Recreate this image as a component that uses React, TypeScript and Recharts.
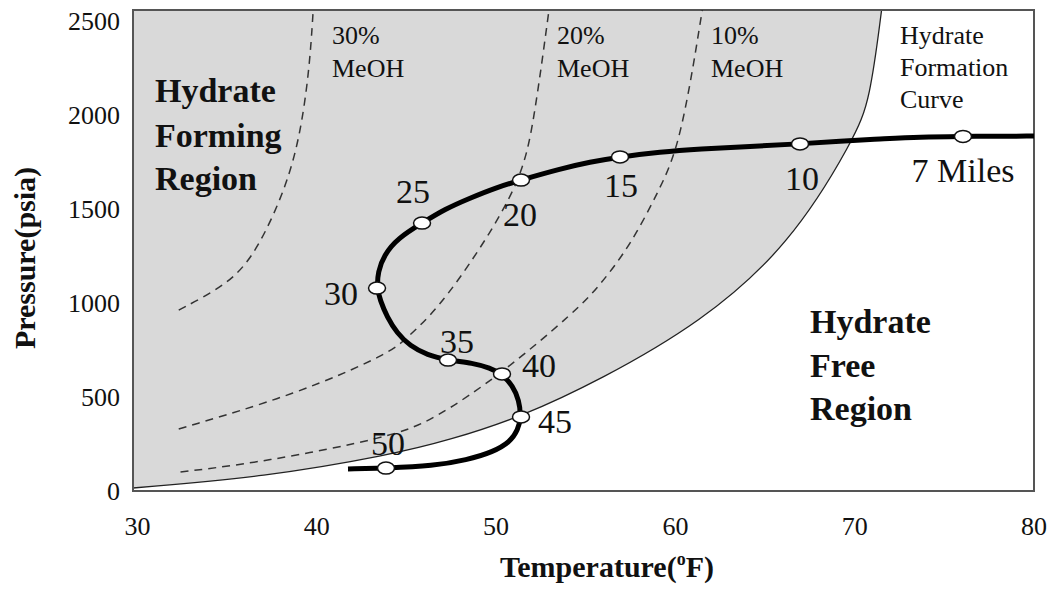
import { ComposedChart, Area, Line, Scatter, XAxis, YAxis, ReferenceArea } from "recharts";

const xTicks = [30, 40, 50, 60, 70, 80];
const yTicks = [0, 500, 1000, 1500, 2000, 2500];

// hydrate formation curve (no methanol)
const formationTemp = [29.75, 37.1, 44.1, 47.4, 51.4, 55.8, 61.4, 66.4, 70.0, 70.85, 71.5];
const formationPressure = [16, 75, 192, 271, 394, 591, 894, 1309, 1879, 2081, 2560];

// inhibited curves
const meoh30Temp = [32.3, 35.2, 36.7, 38.3, 39.1, 39.6, 39.8];
const meoh30Pressure = [963, 1107, 1283, 1618, 1905, 2256, 2560];
const meoh20Temp = [32.3, 38.9, 44.1, 45.0, 46.7, 49.1, 51.4, 52.1, 52.95];
const meoh20Pressure = [330, 516, 734, 814, 963, 1283, 1655, 1958, 2560];
const meoh10Temp = [32.4, 37, 44.1, 46.5, 50.3, 54.5, 55.8, 57.5, 59.1, 60.3, 61.5];
const meoh10Pressure = [101, 154, 287, 378, 623, 963, 1096, 1309, 1602, 1852, 2560];

// pipeline profile, wellhead end first
const routeTemp = [
  80, 77.55, 76.04, 73.64, 71.41, 69.18, 66.95, 64.16, 61.37, 59.14, 56.91, 55.24, 53.56, 51.39, 49.94,
  48.55, 47.15, 45.87, 44.53, 43.75, 43.41, 43.36, 43.53, 43.92, 44.47, 45.2, 46.15, 47.32, 48.71, 49.66,
  50.33, 50.94, 51.28, 51.39, 51.22, 50.78, 49.83, 48.38, 46.48, 43.86, 41.74,
];
const routePressure = [
  1889, 1888, 1887, 1884, 1873, 1863, 1847, 1834, 1820, 1804, 1778, 1751, 1714, 1655, 1613,
  1559, 1501, 1426, 1346, 1256, 1166, 1080, 1016, 926, 841, 772, 724, 697, 681, 655,
  623, 559, 484, 394, 325, 261, 208, 165, 133, 122, 117,
];

const miles = [7, 10, 15, 20, 25, 30, 35, 40, 45, 50];
const mileTemp = [76.04, 66.95, 56.91, 51.39, 45.87, 43.36, 47.32, 50.33, 51.39, 43.86];
const milePressure = [1887, 1847, 1778, 1655, 1426, 1080, 697, 623, 394, 122];

const toPoints = (temps: number[], pressures: number[]) => temps.map((t, i) => ({ t, p: pressures[i] }));

const formationData = toPoints(formationTemp, formationPressure);
const meoh30Data = toPoints(meoh30Temp, meoh30Pressure);
const meoh20Data = toPoints(meoh20Temp, meoh20Pressure);
const meoh10Data = toPoints(meoh10Temp, meoh10Pressure);
const routeData = toPoints(routeTemp, routePressure);
const mileData = miles.map((m, i) => ({ t: mileTemp[i], p: milePressure[i], mile: m }));

const FONT = "'Liberation Serif', 'Times New Roman', serif";

// where each mile number sits relative to its marker
const labelOffset: Record<number, [number, number]> = {
  7: [0, 46],
  10: [2, 46],
  15: [1, 40],
  20: [-1, 46],
  25: [-9, -20],
  30: [-36, 17],
  35: [9, -7],
  40: [37, 3],
  45: [34, 16],
  50: [2, -13],
};

const MileMarker = (props: any) => {
  const { cx, cy, payload } = props;
  const [dx, dy] = labelOffset[payload.mile] || [0, 0];
  return (
    <g>
      <ellipse cx={cx} cy={cy} rx={8.5} ry={6} fill="#fff" stroke="#111" strokeWidth={1.5} />
      <text x={cx + dx} y={cy + dy} textAnchor="middle" fontFamily={FONT} fontSize={34} fill="#111">
        {payload.mile === 7 ? "7 Miles" : payload.mile}
      </text>
    </g>
  );
};

const XTick = (props: any) => (
  <text x={props.x} y={props.y + 44} textAnchor="middle" fontFamily={FONT} fontSize={26} fill="#111">
    {props.payload.value}
  </text>
);

const YTick = (props: any) => (
  <text x={props.x} y={props.y + 9} textAnchor="end" fontFamily={FONT} fontSize={26} fill="#111">
    {props.payload.value}
  </text>
);

export default function App() {
  return (
    <div style={{ position: "absolute", left: 0, top: 0, width: 1051, height: 589, background: "#fff" }}>
      <ComposedChart width={1051} height={589} margin={{ top: 10, right: 17, bottom: 0, left: 0 }}>
        <XAxis
          dataKey="t"
          type="number"
          domain={[29.75, 80]}
          ticks={xTicks}
          allowDataOverflow
          axisLine={false}
          tickLine={false}
          tickSize={0}
          tickMargin={0}
          height={98}
          tick={<XTick />}
        />
        <YAxis
          dataKey="p"
          type="number"
          domain={[0, 2560]}
          ticks={yTicks}
          allowDataOverflow
          axisLine={false}
          tickLine={false}
          tickSize={0}
          tickMargin={13}
          width={133}
          tick={<YTick />}
        />
        <Area
          data={formationData}
          dataKey="p"
          type="basis"
          baseValue={2560}
          fill="#d9d9d9"
          fillOpacity={1}
          stroke="#222"
          strokeWidth={1.3}
          isAnimationActive={false}
        />
        <Line data={meoh30Data} dataKey="p" type="basis" stroke="#333" strokeWidth={1.5} strokeDasharray="8 6" dot={false} isAnimationActive={false} />
        <Line data={meoh20Data} dataKey="p" type="basis" stroke="#333" strokeWidth={1.5} strokeDasharray="8 6" dot={false} isAnimationActive={false} />
        <Line data={meoh10Data} dataKey="p" type="basis" stroke="#333" strokeWidth={1.5} strokeDasharray="8 6" dot={false} isAnimationActive={false} />
        <Line data={routeData} dataKey="p" type="basis" stroke="#000" strokeWidth={5} dot={false} isAnimationActive={false} />
        <Scatter data={mileData} dataKey="p" shape={<MileMarker />} isAnimationActive={false} />
        <ReferenceArea x1={29.75} x2={80} y1={0} y2={2560} fill="none" stroke="#555" strokeWidth={2} ifOverflow="visible" />
      </ComposedChart>
      <svg
        width={1051}
        height={589}
        style={{ position: "absolute", left: 0, top: 0, pointerEvents: "none" }}
        fontFamily={FONT}
        fill="#111"
      >
        <g fontSize={34} fontWeight="bold">
          <text x={155} y={102}>Hydrate</text>
          <text x={155} y={147}>Forming</text>
          <text x={155} y={190}>Region</text>
          <text x={810} y={333}>Hydrate</text>
          <text x={810} y={377}>Free</text>
          <text x={810} y={420}>Region</text>
        </g>
        <g fontSize={26}>
          <text x={332} y={44}>30%</text>
          <text x={332} y={77}>MeOH</text>
          <text x={557} y={44}>20%</text>
          <text x={557} y={77}>MeOH</text>
          <text x={711} y={44}>10%</text>
          <text x={711} y={77}>MeOH</text>
          <text x={900} y={44}>Hydrate</text>
          <text x={900} y={76}>Formation</text>
          <text x={900} y={108}>Curve</text>
        </g>
        <text x={607} y={577} textAnchor="middle" fontSize={30} fontWeight="bold">
          Temperature(
          <tspan fontSize={18} dy={-12}>o</tspan>
          <tspan dy={12}>F)</tspan>
        </text>
        <text
          x={35}
          y={258}
          transform="rotate(-90 35 258)"
          textAnchor="middle"
          fontSize={30}
          fontWeight="bold"
        >
          Pressure(psia)
        </text>
      </svg>
    </div>
  );
}
